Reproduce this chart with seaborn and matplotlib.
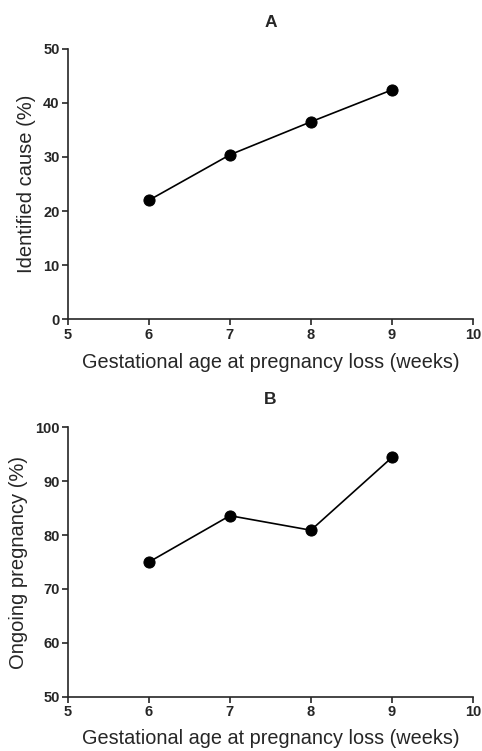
import matplotlib
matplotlib.use("Agg")
import matplotlib.pyplot as plt
import seaborn as sns
import pandas as pd

weeks = [6, 7, 8, 9]
identified_cause = [22.0, 30.4, 36.5, 42.4]
ongoing_pregnancy = [75.0, 83.6, 80.9, 94.4]
x_ticks = [5, 6, 7, 8, 9, 10]
yticks_a = [0, 10, 20, 30, 40, 50]
yticks_b = [50, 60, 70, 80, 90, 100]

sns.set_style("ticks")
plt.rcParams['font.family'] = ['Liberation Sans', 'DejaVu Sans']

fig = plt.figure(figsize=(4.82, 7.51), dpi=100)
axA = fig.add_axes([0.141, 0.575, 0.840, 0.360])
axB = fig.add_axes([0.141, 0.0723, 0.840, 0.3587])

dfA = pd.DataFrame({"week": weeks, "val": identified_cause})
dfB = pd.DataFrame({"week": weeks, "val": ongoing_pregnancy})

for ax, df, yt, ylab, title, xpad, tpad in [
    (axA, dfA, yticks_a, "Identified cause (%)", "A", 8, 16),
    (axB, dfB, yticks_b, "Ongoing pregnancy (%)", "B", 7, 17),
]:
    sns.lineplot(data=df, x="week", y="val", ax=ax, color="black", lw=1.2,
                 marker="o", markersize=8, markeredgecolor="black")
    ax.set_xlim(5, 10)
    ax.set_ylim(yt[0], yt[-1])
    ax.set_xticks(x_ticks)
    ax.set_yticks(yt)
    ax.tick_params(direction="out", length=4, width=1.2, labelsize=10.5, pad=2)
    for lbl in ax.get_xticklabels() + ax.get_yticklabels():
        lbl.set_fontweight("bold")
    for s in ["top", "right"]:
        ax.spines[s].set_visible(False)
    for s in ["left", "bottom"]:
        ax.spines[s].set_linewidth(1.2)
    ax.set_xlabel("Gestational age at pregnancy loss (weeks)", fontsize=14.3, labelpad=xpad)
    ax.set_ylabel(ylab, fontsize=14.5, labelpad=5)
    ax.set_title(title, fontsize=12.5, fontweight="bold", pad=tpad)

fig.savefig("out.png", dpi=100)
